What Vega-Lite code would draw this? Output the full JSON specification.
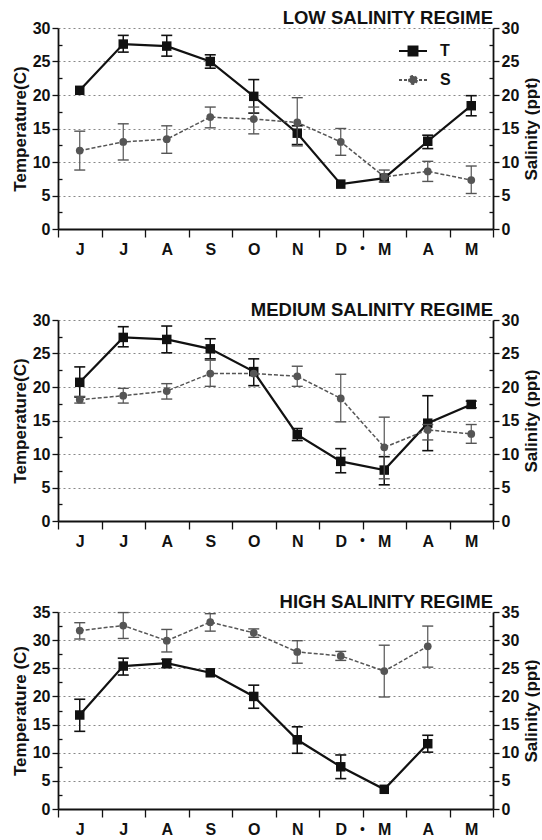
{
  "$schema": "https://vega.github.io/schema/vega-lite/v6.json",
  "padding": {"left": 11, "top": 8, "right": 0, "bottom": 0},
  "spacing": 43,
  "config": {
    "view": {"stroke": null},
    "font": "Liberation Sans",
    "axis": {"labelFont": "Liberation Sans", "titleFont": "Liberation Sans", "labelFontWeight": "bold", "titleFontWeight": "bold", "labelColor": "#111", "titleColor": "#111", "domainColor": "#111", "tickColor": "#111", "domainWidth": 1.8, "tickWidth": 1.3, "labelFontSize": 16, "titleFontSize": 17},
    "axisLeft": {"gridDash": [2, 3], "gridColor": "#888", "gridWidth": 1, "labelPadding": 2, "titlePadding": 3},
    "axisRight": {"titleAngle": 270, "titleBaseline": "top", "labelPadding": 2, "titlePadding": 5},
    "title": {"font": "Liberation Sans", "fontSize": 18.5, "fontWeight": "bold", "color": "#111", "anchor": "end", "offset": -7, "frame": "group"}
  },
  "resolve": {"scale": {"color": "independent"}, "legend": {"color": "independent"}},
  "data": {"values": [
    {"p": "low", "s": "T", "m": "Jun", "i": 0, "v": 20.7, "lo": null, "hi": null},
    {"p": "low", "s": "T", "m": "Jul", "i": 1, "v": 27.6, "lo": 26.4, "hi": 28.9},
    {"p": "low", "s": "T", "m": "Aug", "i": 2, "v": 27.3, "lo": 25.8, "hi": 28.9},
    {"p": "low", "s": "T", "m": "Sep", "i": 3, "v": 25.0, "lo": 24.0, "hi": 26.0},
    {"p": "low", "s": "T", "m": "Oct", "i": 4, "v": 19.8, "lo": 17.3, "hi": 22.3},
    {"p": "low", "s": "T", "m": "Nov", "i": 5, "v": 14.3, "lo": 12.6, "hi": 15.4},
    {"p": "low", "s": "T", "m": "Dec", "i": 6, "v": 6.7, "lo": null, "hi": null},
    {"p": "low", "s": "T", "m": "Mar", "i": 7, "v": 7.6, "lo": null, "hi": null},
    {"p": "low", "s": "T", "m": "Apr", "i": 8, "v": 13.1, "lo": 12.0, "hi": 14.0},
    {"p": "low", "s": "T", "m": "May", "i": 9, "v": 18.4, "lo": 16.9, "hi": 19.9},
    {"p": "low", "s": "S", "m": "Jun", "i": 0, "v": 11.7, "lo": 8.8, "hi": 14.6},
    {"p": "low", "s": "S", "m": "Jul", "i": 1, "v": 13.0, "lo": 10.3, "hi": 15.7},
    {"p": "low", "s": "S", "m": "Aug", "i": 2, "v": 13.4, "lo": 11.3, "hi": 15.4},
    {"p": "low", "s": "S", "m": "Sep", "i": 3, "v": 16.7, "lo": 15.1, "hi": 18.2},
    {"p": "low", "s": "S", "m": "Oct", "i": 4, "v": 16.4, "lo": 14.2, "hi": 18.2},
    {"p": "low", "s": "S", "m": "Nov", "i": 5, "v": 15.9, "lo": 12.4, "hi": 19.6},
    {"p": "low", "s": "S", "m": "Dec", "i": 6, "v": 13.0, "lo": 11.0, "hi": 15.0},
    {"p": "low", "s": "S", "m": "Mar", "i": 7, "v": 7.8, "lo": 7.0, "hi": 8.8},
    {"p": "low", "s": "S", "m": "Apr", "i": 8, "v": 8.6, "lo": 7.1, "hi": 10.1},
    {"p": "low", "s": "S", "m": "May", "i": 9, "v": 7.3, "lo": 5.3, "hi": 9.4},
    {"p": "med", "s": "T", "m": "Jun", "i": 0, "v": 20.7, "lo": 18.5, "hi": 23.0},
    {"p": "med", "s": "T", "m": "Jul", "i": 1, "v": 27.4, "lo": 26.0, "hi": 29.0},
    {"p": "med", "s": "T", "m": "Aug", "i": 2, "v": 27.1, "lo": 25.1, "hi": 29.1},
    {"p": "med", "s": "T", "m": "Sep", "i": 3, "v": 25.7, "lo": 24.2, "hi": 27.2},
    {"p": "med", "s": "T", "m": "Oct", "i": 4, "v": 22.3, "lo": 20.2, "hi": 24.2},
    {"p": "med", "s": "T", "m": "Nov", "i": 5, "v": 12.9, "lo": 12.0, "hi": 13.8},
    {"p": "med", "s": "T", "m": "Dec", "i": 6, "v": 8.9, "lo": 7.2, "hi": 10.8},
    {"p": "med", "s": "T", "m": "Mar", "i": 7, "v": 7.6, "lo": 5.4, "hi": 9.6},
    {"p": "med", "s": "T", "m": "Apr", "i": 8, "v": 14.6, "lo": 10.5, "hi": 18.7},
    {"p": "med", "s": "T", "m": "May", "i": 9, "v": 17.4, "lo": 16.9, "hi": 17.9},
    {"p": "med", "s": "S", "m": "Jun", "i": 0, "v": 18.1, "lo": 17.6, "hi": 18.6},
    {"p": "med", "s": "S", "m": "Jul", "i": 1, "v": 18.7, "lo": 17.6, "hi": 19.8},
    {"p": "med", "s": "S", "m": "Aug", "i": 2, "v": 19.4, "lo": 18.2, "hi": 20.5},
    {"p": "med", "s": "S", "m": "Sep", "i": 3, "v": 22.0, "lo": 20.1, "hi": 24.0},
    {"p": "med", "s": "S", "m": "Oct", "i": 4, "v": 22.0, "lo": null, "hi": null},
    {"p": "med", "s": "S", "m": "Nov", "i": 5, "v": 21.6, "lo": 20.1, "hi": 23.1},
    {"p": "med", "s": "S", "m": "Dec", "i": 6, "v": 18.3, "lo": 14.8, "hi": 21.9},
    {"p": "med", "s": "S", "m": "Mar", "i": 7, "v": 11.0, "lo": 6.3, "hi": 15.5},
    {"p": "med", "s": "S", "m": "Apr", "i": 8, "v": 13.6, "lo": 12.1, "hi": 14.4},
    {"p": "med", "s": "S", "m": "May", "i": 9, "v": 13.0, "lo": 11.6, "hi": 14.4},
    {"p": "high", "s": "T", "m": "Jun", "i": 0, "v": 16.7, "lo": 13.8, "hi": 19.5},
    {"p": "high", "s": "T", "m": "Jul", "i": 1, "v": 25.4, "lo": 23.8, "hi": 26.8},
    {"p": "high", "s": "T", "m": "Aug", "i": 2, "v": 25.9, "lo": 25.1, "hi": 26.6},
    {"p": "high", "s": "T", "m": "Sep", "i": 3, "v": 24.2, "lo": null, "hi": null},
    {"p": "high", "s": "T", "m": "Oct", "i": 4, "v": 20.0, "lo": 17.9, "hi": 22.0},
    {"p": "high", "s": "T", "m": "Nov", "i": 5, "v": 12.3, "lo": 9.9, "hi": 14.6},
    {"p": "high", "s": "T", "m": "Dec", "i": 6, "v": 7.5, "lo": 5.4, "hi": 9.6},
    {"p": "high", "s": "T", "m": "Mar", "i": 7, "v": 3.5, "lo": null, "hi": null},
    {"p": "high", "s": "T", "m": "Apr", "i": 8, "v": 11.6, "lo": 10.1, "hi": 13.1},
    {"p": "high", "s": "S", "m": "Jun", "i": 0, "v": 31.7, "lo": 30.2, "hi": 33.1},
    {"p": "high", "s": "S", "m": "Jul", "i": 1, "v": 32.6, "lo": 30.3, "hi": 34.9},
    {"p": "high", "s": "S", "m": "Aug", "i": 2, "v": 29.9, "lo": 27.9, "hi": 31.9},
    {"p": "high", "s": "S", "m": "Sep", "i": 3, "v": 33.2, "lo": 31.6, "hi": 34.7},
    {"p": "high", "s": "S", "m": "Oct", "i": 4, "v": 31.3, "lo": 30.5, "hi": 32.0},
    {"p": "high", "s": "S", "m": "Nov", "i": 5, "v": 27.9, "lo": 25.9, "hi": 29.9},
    {"p": "high", "s": "S", "m": "Dec", "i": 6, "v": 27.2, "lo": 26.4, "hi": 28.0},
    {"p": "high", "s": "S", "m": "Mar", "i": 7, "v": 24.5, "lo": 19.9, "hi": 29.1},
    {"p": "high", "s": "S", "m": "Apr", "i": 8, "v": 28.9, "lo": 25.2, "hi": 32.5}
  ]},
  "vconcat": [
    {
      "width": 435, "height": 201,
      "title": {"text": "LOW SALINITY REGIME"},
      "transform": [{"filter": "datum.p === 'low'"}],
      "encoding": {"x": {"field": "m", "type": "nominal", "scale": {"domain": ["Jun","Jul","Aug","Sep","Oct","Nov","Dec","Mar","Apr","May"], "paddingInner": 0, "paddingOuter": 0}, "axis": {"title": null, "labelExpr": "datum.value ? substring(datum.value,0,1) : ''", "labelAngle": 0, "labelPadding": 4, "tickBand": "extent", "tickSize": 8, "grid": false}}},
      "layer": [
        {"transform": [{"filter": "datum.s === 'T'"}],
         "layer": [
          {"mark": {"type": "line", "strokeWidth": 2.2}, "encoding": {
            "y": {"field": "v", "type": "quantitative", "scale": {"domain": [0, 30], "nice": false}, "axis": {"orient": "left", "title": "Temperature(C)", "values": [0,2.5,5,7.5,10,12.5,15,17.5,20,22.5,25,27.5,30], "labelExpr": "datum.value % 5 === 0 ? datum.label : ''", "tickSize": {"condition": {"test": "datum.value % 5 !== 0", "value": -4}, "value": 6}, "grid": true, "gridOpacity": {"condition": {"test": "datum.value % 5 !== 0", "value": 0}, "value": 1}}},
            "order": {"field": "i", "type": "quantitative"},
            "color": {"field": "s", "type": "nominal", "scale": {"domain": ["T", "S"], "range": ["#111", "#555"]}, "legend": {"orient": "none", "legendX": 340, "legendY": 8, "title": null, "direction": "vertical", "symbolSize": 784, "rowPadding": 5, "labelOffset": 12, "labelFontSize": 16, "labelFontWeight": "bold", "labelFont": "Liberation Sans", "labelColor": "#111", "padding": 0,
              "encode": {"symbols": {"update": {
                "shape": {"signal": "datum.value === 'T' ? 'M-1,0H1M-0.32,-0.32H0.32V0.32H-0.32Z' : 'M-1,0H1M0.28,0A0.28,0.28 0 1,1 -0.28,0A0.28,0.28 0 1,1 0.28,0Z'"},
                "fill": {"signal": "datum.value === 'T' ? '#111' : '#555'"},
                "stroke": {"signal": "datum.value === 'T' ? '#111' : '#555'"},
                "strokeDash": {"signal": "datum.value === 'S' ? [3, 2] : [1, 0]"},
                "strokeWidth": {"value": 2},
                "opacity": {"value": 1}}}}}}}},
          {"mark": {"type": "rule", "color": "#111", "strokeWidth": 1.5}, "encoding": {"y": {"field": "lo", "type": "quantitative", "scale": {"domain": [0, 30], "nice": false}, "axis": {"orient": "left", "title": "Temperature(C)", "values": [0,2.5,5,7.5,10,12.5,15,17.5,20,22.5,25,27.5,30], "labelExpr": "datum.value % 5 === 0 ? datum.label : ''", "tickSize": {"condition": {"test": "datum.value % 5 !== 0", "value": -4}, "value": 6}, "grid": true, "gridOpacity": {"condition": {"test": "datum.value % 5 !== 0", "value": 0}, "value": 1}}}, "y2": {"field": "hi"}}},
          {"mark": {"type": "tick", "color": "#111", "size": 11, "thickness": 1.6, "opacity": 1}, "encoding": {"y": {"field": "lo", "type": "quantitative", "scale": {"domain": [0, 30], "nice": false}, "axis": {"orient": "left", "title": "Temperature(C)", "values": [0,2.5,5,7.5,10,12.5,15,17.5,20,22.5,25,27.5,30], "labelExpr": "datum.value % 5 === 0 ? datum.label : ''", "tickSize": {"condition": {"test": "datum.value % 5 !== 0", "value": -4}, "value": 6}, "grid": true, "gridOpacity": {"condition": {"test": "datum.value % 5 !== 0", "value": 0}, "value": 1}}}}},
          {"mark": {"type": "tick", "color": "#111", "size": 11, "thickness": 1.6, "opacity": 1}, "encoding": {"y": {"field": "hi", "type": "quantitative", "scale": {"domain": [0, 30], "nice": false}, "axis": {"orient": "left", "title": "Temperature(C)", "values": [0,2.5,5,7.5,10,12.5,15,17.5,20,22.5,25,27.5,30], "labelExpr": "datum.value % 5 === 0 ? datum.label : ''", "tickSize": {"condition": {"test": "datum.value % 5 !== 0", "value": -4}, "value": 6}, "grid": true, "gridOpacity": {"condition": {"test": "datum.value % 5 !== 0", "value": 0}, "value": 1}}}}},
          {"mark": {"type": "point", "shape": "square", "filled": true, "size": 90, "color": "#111", "opacity": 1}, "encoding": {"y": {"field": "v", "type": "quantitative", "scale": {"domain": [0, 30], "nice": false}, "axis": {"orient": "left", "title": "Temperature(C)", "values": [0,2.5,5,7.5,10,12.5,15,17.5,20,22.5,25,27.5,30], "labelExpr": "datum.value % 5 === 0 ? datum.label : ''", "tickSize": {"condition": {"test": "datum.value % 5 !== 0", "value": -4}, "value": 6}, "grid": true, "gridOpacity": {"condition": {"test": "datum.value % 5 !== 0", "value": 0}, "value": 1}}}}},
          {"transform": [{"filter": "datum.m === 'Dec'"}], "mark": {"type": "text", "text": "•", "fontSize": 14, "color": "#111"}, "encoding": {"x": {"field": "m", "type": "nominal", "bandPosition": 1}, "y": {"datum": -3.0, "type": "quantitative", "scale": {"domain": [0, 30], "nice": false}, "axis": {"orient": "left", "title": "Temperature(C)", "values": [0,2.5,5,7.5,10,12.5,15,17.5,20,22.5,25,27.5,30], "labelExpr": "datum.value % 5 === 0 ? datum.label : ''", "tickSize": {"condition": {"test": "datum.value % 5 !== 0", "value": -4}, "value": 6}, "grid": true, "gridOpacity": {"condition": {"test": "datum.value % 5 !== 0", "value": 0}, "value": 1}}}}}
        ]},
        {"transform": [{"filter": "datum.s === 'S'"}],
         "layer": [
          {"mark": {"type": "line", "strokeWidth": 1.5, "strokeDash": [4, 2]}, "encoding": {
            "y": {"field": "v", "type": "quantitative", "scale": {"domain": [0, 30], "nice": false}, "axis": {"orient": "right", "title": "Salinity (ppt)", "values": [0,2.5,5,7.5,10,12.5,15,17.5,20,22.5,25,27.5,30], "labelExpr": "datum.value % 5 === 0 ? datum.label : ''", "tickSize": {"condition": {"test": "datum.value % 5 !== 0", "value": -4}, "value": 6}, "grid": false}},
            "order": {"field": "i", "type": "quantitative"},
            "color": {"field": "s", "type": "nominal", "scale": {"domain": ["T", "S"], "range": ["#111", "#555"]}}}},
          {"mark": {"type": "rule", "color": "#555", "strokeWidth": 1.2}, "encoding": {"y": {"field": "lo", "type": "quantitative", "scale": {"domain": [0, 30], "nice": false}, "axis": {"orient": "right", "title": "Salinity (ppt)", "values": [0,2.5,5,7.5,10,12.5,15,17.5,20,22.5,25,27.5,30], "labelExpr": "datum.value % 5 === 0 ? datum.label : ''", "tickSize": {"condition": {"test": "datum.value % 5 !== 0", "value": -4}, "value": 6}, "grid": false}}, "y2": {"field": "hi"}}},
          {"mark": {"type": "tick", "color": "#555", "size": 11, "thickness": 1.4, "opacity": 1}, "encoding": {"y": {"field": "lo", "type": "quantitative", "scale": {"domain": [0, 30], "nice": false}, "axis": {"orient": "right", "title": "Salinity (ppt)", "values": [0,2.5,5,7.5,10,12.5,15,17.5,20,22.5,25,27.5,30], "labelExpr": "datum.value % 5 === 0 ? datum.label : ''", "tickSize": {"condition": {"test": "datum.value % 5 !== 0", "value": -4}, "value": 6}, "grid": false}}}},
          {"mark": {"type": "tick", "color": "#555", "size": 11, "thickness": 1.4, "opacity": 1}, "encoding": {"y": {"field": "hi", "type": "quantitative", "scale": {"domain": [0, 30], "nice": false}, "axis": {"orient": "right", "title": "Salinity (ppt)", "values": [0,2.5,5,7.5,10,12.5,15,17.5,20,22.5,25,27.5,30], "labelExpr": "datum.value % 5 === 0 ? datum.label : ''", "tickSize": {"condition": {"test": "datum.value % 5 !== 0", "value": -4}, "value": 6}, "grid": false}}}},
          {"mark": {"type": "point", "shape": "circle", "filled": true, "size": 60, "color": "#555", "opacity": 1}, "encoding": {"y": {"field": "v", "type": "quantitative", "scale": {"domain": [0, 30], "nice": false}, "axis": {"orient": "right", "title": "Salinity (ppt)", "values": [0,2.5,5,7.5,10,12.5,15,17.5,20,22.5,25,27.5,30], "labelExpr": "datum.value % 5 === 0 ? datum.label : ''", "tickSize": {"condition": {"test": "datum.value % 5 !== 0", "value": -4}, "value": 6}, "grid": false}}}}
        ]}
      ],
      "resolve": {"scale": {"y": "independent"}}
    },
    {
      "width": 435, "height": 201,
      "title": {"text": "MEDIUM SALINITY REGIME"},
      "transform": [{"filter": "datum.p === 'med'"}],
      "encoding": {"x": {"field": "m", "type": "nominal", "scale": {"domain": ["Jun","Jul","Aug","Sep","Oct","Nov","Dec","Mar","Apr","May"], "paddingInner": 0, "paddingOuter": 0}, "axis": {"title": null, "labelExpr": "datum.value ? substring(datum.value,0,1) : ''", "labelAngle": 0, "labelPadding": 4, "tickBand": "extent", "tickSize": 8, "grid": false}}},
      "layer": [
        {"transform": [{"filter": "datum.s === 'T'"}],
         "layer": [
          {"mark": {"type": "line", "strokeWidth": 2.2, "color": "#111"}, "encoding": {
            "y": {"field": "v", "type": "quantitative", "scale": {"domain": [0, 30], "nice": false}, "axis": {"orient": "left", "title": "Temperature(C)", "values": [0,2.5,5,7.5,10,12.5,15,17.5,20,22.5,25,27.5,30], "labelExpr": "datum.value % 5 === 0 ? datum.label : ''", "tickSize": {"condition": {"test": "datum.value % 5 !== 0", "value": -4}, "value": 6}, "grid": true, "gridOpacity": {"condition": {"test": "datum.value % 5 !== 0", "value": 0}, "value": 1}}},
            "order": {"field": "i", "type": "quantitative"}}},
          {"mark": {"type": "rule", "color": "#111", "strokeWidth": 1.5}, "encoding": {"y": {"field": "lo", "type": "quantitative", "scale": {"domain": [0, 30], "nice": false}, "axis": {"orient": "left", "title": "Temperature(C)", "values": [0,2.5,5,7.5,10,12.5,15,17.5,20,22.5,25,27.5,30], "labelExpr": "datum.value % 5 === 0 ? datum.label : ''", "tickSize": {"condition": {"test": "datum.value % 5 !== 0", "value": -4}, "value": 6}, "grid": true, "gridOpacity": {"condition": {"test": "datum.value % 5 !== 0", "value": 0}, "value": 1}}}, "y2": {"field": "hi"}}},
          {"mark": {"type": "tick", "color": "#111", "size": 11, "thickness": 1.6, "opacity": 1}, "encoding": {"y": {"field": "lo", "type": "quantitative", "scale": {"domain": [0, 30], "nice": false}, "axis": {"orient": "left", "title": "Temperature(C)", "values": [0,2.5,5,7.5,10,12.5,15,17.5,20,22.5,25,27.5,30], "labelExpr": "datum.value % 5 === 0 ? datum.label : ''", "tickSize": {"condition": {"test": "datum.value % 5 !== 0", "value": -4}, "value": 6}, "grid": true, "gridOpacity": {"condition": {"test": "datum.value % 5 !== 0", "value": 0}, "value": 1}}}}},
          {"mark": {"type": "tick", "color": "#111", "size": 11, "thickness": 1.6, "opacity": 1}, "encoding": {"y": {"field": "hi", "type": "quantitative", "scale": {"domain": [0, 30], "nice": false}, "axis": {"orient": "left", "title": "Temperature(C)", "values": [0,2.5,5,7.5,10,12.5,15,17.5,20,22.5,25,27.5,30], "labelExpr": "datum.value % 5 === 0 ? datum.label : ''", "tickSize": {"condition": {"test": "datum.value % 5 !== 0", "value": -4}, "value": 6}, "grid": true, "gridOpacity": {"condition": {"test": "datum.value % 5 !== 0", "value": 0}, "value": 1}}}}},
          {"mark": {"type": "point", "shape": "square", "filled": true, "size": 90, "color": "#111", "opacity": 1}, "encoding": {"y": {"field": "v", "type": "quantitative", "scale": {"domain": [0, 30], "nice": false}, "axis": {"orient": "left", "title": "Temperature(C)", "values": [0,2.5,5,7.5,10,12.5,15,17.5,20,22.5,25,27.5,30], "labelExpr": "datum.value % 5 === 0 ? datum.label : ''", "tickSize": {"condition": {"test": "datum.value % 5 !== 0", "value": -4}, "value": 6}, "grid": true, "gridOpacity": {"condition": {"test": "datum.value % 5 !== 0", "value": 0}, "value": 1}}}}},
          {"transform": [{"filter": "datum.m === 'Dec'"}], "mark": {"type": "text", "text": "•", "fontSize": 14, "color": "#111"}, "encoding": {"x": {"field": "m", "type": "nominal", "bandPosition": 1}, "y": {"datum": -3.0, "type": "quantitative", "scale": {"domain": [0, 30], "nice": false}, "axis": {"orient": "left", "title": "Temperature(C)", "values": [0,2.5,5,7.5,10,12.5,15,17.5,20,22.5,25,27.5,30], "labelExpr": "datum.value % 5 === 0 ? datum.label : ''", "tickSize": {"condition": {"test": "datum.value % 5 !== 0", "value": -4}, "value": 6}, "grid": true, "gridOpacity": {"condition": {"test": "datum.value % 5 !== 0", "value": 0}, "value": 1}}}}}
        ]},
        {"transform": [{"filter": "datum.s === 'S'"}],
         "layer": [
          {"mark": {"type": "line", "strokeWidth": 1.5, "strokeDash": [4, 2], "color": "#555"}, "encoding": {
            "y": {"field": "v", "type": "quantitative", "scale": {"domain": [0, 30], "nice": false}, "axis": {"orient": "right", "title": "Salinity (ppt)", "values": [0,2.5,5,7.5,10,12.5,15,17.5,20,22.5,25,27.5,30], "labelExpr": "datum.value % 5 === 0 ? datum.label : ''", "tickSize": {"condition": {"test": "datum.value % 5 !== 0", "value": -4}, "value": 6}, "grid": false}},
            "order": {"field": "i", "type": "quantitative"}}},
          {"mark": {"type": "rule", "color": "#555", "strokeWidth": 1.2}, "encoding": {"y": {"field": "lo", "type": "quantitative", "scale": {"domain": [0, 30], "nice": false}, "axis": {"orient": "right", "title": "Salinity (ppt)", "values": [0,2.5,5,7.5,10,12.5,15,17.5,20,22.5,25,27.5,30], "labelExpr": "datum.value % 5 === 0 ? datum.label : ''", "tickSize": {"condition": {"test": "datum.value % 5 !== 0", "value": -4}, "value": 6}, "grid": false}}, "y2": {"field": "hi"}}},
          {"mark": {"type": "tick", "color": "#555", "size": 11, "thickness": 1.4, "opacity": 1}, "encoding": {"y": {"field": "lo", "type": "quantitative", "scale": {"domain": [0, 30], "nice": false}, "axis": {"orient": "right", "title": "Salinity (ppt)", "values": [0,2.5,5,7.5,10,12.5,15,17.5,20,22.5,25,27.5,30], "labelExpr": "datum.value % 5 === 0 ? datum.label : ''", "tickSize": {"condition": {"test": "datum.value % 5 !== 0", "value": -4}, "value": 6}, "grid": false}}}},
          {"mark": {"type": "tick", "color": "#555", "size": 11, "thickness": 1.4, "opacity": 1}, "encoding": {"y": {"field": "hi", "type": "quantitative", "scale": {"domain": [0, 30], "nice": false}, "axis": {"orient": "right", "title": "Salinity (ppt)", "values": [0,2.5,5,7.5,10,12.5,15,17.5,20,22.5,25,27.5,30], "labelExpr": "datum.value % 5 === 0 ? datum.label : ''", "tickSize": {"condition": {"test": "datum.value % 5 !== 0", "value": -4}, "value": 6}, "grid": false}}}},
          {"mark": {"type": "point", "shape": "circle", "filled": true, "size": 60, "color": "#555", "opacity": 1}, "encoding": {"y": {"field": "v", "type": "quantitative", "scale": {"domain": [0, 30], "nice": false}, "axis": {"orient": "right", "title": "Salinity (ppt)", "values": [0,2.5,5,7.5,10,12.5,15,17.5,20,22.5,25,27.5,30], "labelExpr": "datum.value % 5 === 0 ? datum.label : ''", "tickSize": {"condition": {"test": "datum.value % 5 !== 0", "value": -4}, "value": 6}, "grid": false}}}}
        ]}
      ],
      "resolve": {"scale": {"y": "independent"}}
    },
    {
      "width": 435, "height": 197,
      "title": {"text": "HIGH SALINITY REGIME"},
      "transform": [{"filter": "datum.p === 'high'"}],
      "encoding": {"x": {"field": "m", "type": "nominal", "scale": {"domain": ["Jun","Jul","Aug","Sep","Oct","Nov","Dec","Mar","Apr","May"], "paddingInner": 0, "paddingOuter": 0}, "axis": {"title": null, "labelExpr": "datum.value ? substring(datum.value,0,1) : ''", "labelAngle": 0, "labelPadding": 4, "tickBand": "extent", "tickSize": 8, "grid": false}}},
      "layer": [
        {"transform": [{"filter": "datum.s === 'T'"}],
         "layer": [
          {"mark": {"type": "line", "strokeWidth": 2.2, "color": "#111"}, "encoding": {
            "y": {"field": "v", "type": "quantitative", "scale": {"domain": [0, 35], "nice": false}, "axis": {"orient": "left", "title": "Temperature (C)", "values": [0,2.5,5,7.5,10,12.5,15,17.5,20,22.5,25,27.5,30,32.5,35], "labelExpr": "datum.value % 5 === 0 ? datum.label : ''", "tickSize": {"condition": {"test": "datum.value % 5 !== 0", "value": -4}, "value": 6}, "grid": true, "gridOpacity": {"condition": {"test": "datum.value % 5 !== 0", "value": 0}, "value": 1}}},
            "order": {"field": "i", "type": "quantitative"}}},
          {"mark": {"type": "rule", "color": "#111", "strokeWidth": 1.5}, "encoding": {"y": {"field": "lo", "type": "quantitative", "scale": {"domain": [0, 35], "nice": false}, "axis": {"orient": "left", "title": "Temperature (C)", "values": [0,2.5,5,7.5,10,12.5,15,17.5,20,22.5,25,27.5,30,32.5,35], "labelExpr": "datum.value % 5 === 0 ? datum.label : ''", "tickSize": {"condition": {"test": "datum.value % 5 !== 0", "value": -4}, "value": 6}, "grid": true, "gridOpacity": {"condition": {"test": "datum.value % 5 !== 0", "value": 0}, "value": 1}}}, "y2": {"field": "hi"}}},
          {"mark": {"type": "tick", "color": "#111", "size": 11, "thickness": 1.6, "opacity": 1}, "encoding": {"y": {"field": "lo", "type": "quantitative", "scale": {"domain": [0, 35], "nice": false}, "axis": {"orient": "left", "title": "Temperature (C)", "values": [0,2.5,5,7.5,10,12.5,15,17.5,20,22.5,25,27.5,30,32.5,35], "labelExpr": "datum.value % 5 === 0 ? datum.label : ''", "tickSize": {"condition": {"test": "datum.value % 5 !== 0", "value": -4}, "value": 6}, "grid": true, "gridOpacity": {"condition": {"test": "datum.value % 5 !== 0", "value": 0}, "value": 1}}}}},
          {"mark": {"type": "tick", "color": "#111", "size": 11, "thickness": 1.6, "opacity": 1}, "encoding": {"y": {"field": "hi", "type": "quantitative", "scale": {"domain": [0, 35], "nice": false}, "axis": {"orient": "left", "title": "Temperature (C)", "values": [0,2.5,5,7.5,10,12.5,15,17.5,20,22.5,25,27.5,30,32.5,35], "labelExpr": "datum.value % 5 === 0 ? datum.label : ''", "tickSize": {"condition": {"test": "datum.value % 5 !== 0", "value": -4}, "value": 6}, "grid": true, "gridOpacity": {"condition": {"test": "datum.value % 5 !== 0", "value": 0}, "value": 1}}}}},
          {"mark": {"type": "point", "shape": "square", "filled": true, "size": 90, "color": "#111", "opacity": 1}, "encoding": {"y": {"field": "v", "type": "quantitative", "scale": {"domain": [0, 35], "nice": false}, "axis": {"orient": "left", "title": "Temperature (C)", "values": [0,2.5,5,7.5,10,12.5,15,17.5,20,22.5,25,27.5,30,32.5,35], "labelExpr": "datum.value % 5 === 0 ? datum.label : ''", "tickSize": {"condition": {"test": "datum.value % 5 !== 0", "value": -4}, "value": 6}, "grid": true, "gridOpacity": {"condition": {"test": "datum.value % 5 !== 0", "value": 0}, "value": 1}}}}},
          {"transform": [{"filter": "datum.m === 'Dec'"}], "mark": {"type": "text", "text": "•", "fontSize": 14, "color": "#111"}, "encoding": {"x": {"field": "m", "type": "nominal", "bandPosition": 1}, "y": {"datum": -3.7, "type": "quantitative", "scale": {"domain": [0, 35], "nice": false}, "axis": {"orient": "left", "title": "Temperature (C)", "values": [0,2.5,5,7.5,10,12.5,15,17.5,20,22.5,25,27.5,30,32.5,35], "labelExpr": "datum.value % 5 === 0 ? datum.label : ''", "tickSize": {"condition": {"test": "datum.value % 5 !== 0", "value": -4}, "value": 6}, "grid": true, "gridOpacity": {"condition": {"test": "datum.value % 5 !== 0", "value": 0}, "value": 1}}}}}
        ]},
        {"transform": [{"filter": "datum.s === 'S'"}],
         "layer": [
          {"mark": {"type": "line", "strokeWidth": 1.5, "strokeDash": [4, 2], "color": "#555"}, "encoding": {
            "y": {"field": "v", "type": "quantitative", "scale": {"domain": [0, 35], "nice": false}, "axis": {"orient": "right", "title": "Salinity (ppt)", "values": [0,2.5,5,7.5,10,12.5,15,17.5,20,22.5,25,27.5,30,32.5,35], "labelExpr": "datum.value % 5 === 0 ? datum.label : ''", "tickSize": {"condition": {"test": "datum.value % 5 !== 0", "value": -4}, "value": 6}, "grid": false}},
            "order": {"field": "i", "type": "quantitative"}}},
          {"mark": {"type": "rule", "color": "#555", "strokeWidth": 1.2}, "encoding": {"y": {"field": "lo", "type": "quantitative", "scale": {"domain": [0, 35], "nice": false}, "axis": {"orient": "right", "title": "Salinity (ppt)", "values": [0,2.5,5,7.5,10,12.5,15,17.5,20,22.5,25,27.5,30,32.5,35], "labelExpr": "datum.value % 5 === 0 ? datum.label : ''", "tickSize": {"condition": {"test": "datum.value % 5 !== 0", "value": -4}, "value": 6}, "grid": false}}, "y2": {"field": "hi"}}},
          {"mark": {"type": "tick", "color": "#555", "size": 11, "thickness": 1.4, "opacity": 1}, "encoding": {"y": {"field": "lo", "type": "quantitative", "scale": {"domain": [0, 35], "nice": false}, "axis": {"orient": "right", "title": "Salinity (ppt)", "values": [0,2.5,5,7.5,10,12.5,15,17.5,20,22.5,25,27.5,30,32.5,35], "labelExpr": "datum.value % 5 === 0 ? datum.label : ''", "tickSize": {"condition": {"test": "datum.value % 5 !== 0", "value": -4}, "value": 6}, "grid": false}}}},
          {"mark": {"type": "tick", "color": "#555", "size": 11, "thickness": 1.4, "opacity": 1}, "encoding": {"y": {"field": "hi", "type": "quantitative", "scale": {"domain": [0, 35], "nice": false}, "axis": {"orient": "right", "title": "Salinity (ppt)", "values": [0,2.5,5,7.5,10,12.5,15,17.5,20,22.5,25,27.5,30,32.5,35], "labelExpr": "datum.value % 5 === 0 ? datum.label : ''", "tickSize": {"condition": {"test": "datum.value % 5 !== 0", "value": -4}, "value": 6}, "grid": false}}}},
          {"mark": {"type": "point", "shape": "circle", "filled": true, "size": 60, "color": "#555", "opacity": 1}, "encoding": {"y": {"field": "v", "type": "quantitative", "scale": {"domain": [0, 35], "nice": false}, "axis": {"orient": "right", "title": "Salinity (ppt)", "values": [0,2.5,5,7.5,10,12.5,15,17.5,20,22.5,25,27.5,30,32.5,35], "labelExpr": "datum.value % 5 === 0 ? datum.label : ''", "tickSize": {"condition": {"test": "datum.value % 5 !== 0", "value": -4}, "value": 6}, "grid": false}}}}
        ]}
      ],
      "resolve": {"scale": {"y": "independent"}}
    }
  ]
}
